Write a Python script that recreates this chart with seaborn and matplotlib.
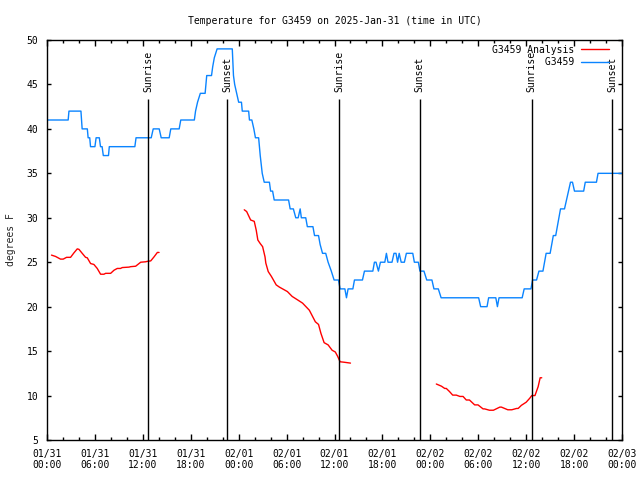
import matplotlib
matplotlib.use("Agg")
import matplotlib.pyplot as plt
import numpy as np
import pandas as pd
import seaborn as sns

# ---------------- data (hours since 2025-01-31 00:00 UTC) ----------------
obs_hours = [0.0, 2.65, 2.75, 4.25, 4.4, 5.05, 5.15, 5.35, 5.45, 6.0, 6.15, 6.55, 6.7, 6.9,
             7.05, 7.7, 7.8, 11.0, 11.15, 13.05, 13.3, 14.05, 14.3, 15.3, 15.5, 16.55, 16.75,
             18.45, 18.6, 18.85, 19.2, 19.8, 20.0, 20.6, 20.75, 20.95, 21.3, 23.2, 23.35, 23.5,
             23.75, 24.0, 24.35, 24.45, 25.25, 25.35, 25.65, 25.9, 26.1, 26.5, 26.7, 26.95,
             27.2, 27.85, 28.0, 28.25, 28.45, 30.25, 30.45, 30.85, 31.15, 31.45, 31.7, 31.85,
             32.4, 32.6, 33.3, 33.5, 34.0, 34.2, 34.5, 34.9, 35.2, 35.6, 35.95, 36.5, 36.7,
             37.3, 37.5, 37.7, 38.3, 38.5, 39.5, 39.75, 40.8, 41.0, 41.2, 41.5, 41.75, 42.3,
             42.5, 42.7, 43.2, 43.45, 43.7, 43.9, 44.1, 44.35, 44.75, 45.0, 45.8, 46.0, 46.5,
             46.7, 47.2, 47.55, 48.2, 48.45, 49.0, 49.35, 54.05, 54.3, 55.1, 55.3, 56.2, 56.4,
             56.6, 59.5, 59.75, 60.6, 60.8, 61.3, 61.6, 62.1, 62.3, 62.5, 63.0, 63.2, 63.4,
             63.7, 63.9, 64.1, 64.3, 64.8, 65.05, 65.3, 65.55, 65.8, 66.05, 67.2, 67.4, 68.8,
             69.0, 72.0]
obs_temps = [41, 41, 42, 42, 40, 40, 39, 39, 38, 38, 39, 39, 38, 38,
             37, 37, 38, 38, 39, 39, 40, 40, 39, 39, 40, 40, 41,
             41, 42, 43, 44, 44, 46, 46, 47, 48, 49, 49, 46, 45,
             44, 43, 43, 42, 42, 41, 41, 40, 39, 39, 37, 35,
             34, 34, 33, 33, 32, 32, 31, 31, 30, 30, 31, 30,
             30, 29, 29, 28, 28, 27, 26, 26, 25, 24, 23, 23, 22,
             22, 21, 22, 22, 23, 23, 24, 24, 25, 25, 24, 25, 25,
             26, 25, 25, 26, 26, 25, 26, 25, 25, 26, 26, 25, 25,
             24, 24, 23, 23, 22, 22, 21, 21, 20, 20, 21, 21, 20,
             21, 21, 22, 22, 23, 23, 24, 24, 25, 26, 26, 27, 28,
             28, 29, 30, 31, 31, 32, 33, 34, 34, 33, 33, 34, 34,
             35, 35]

ana_hours_1 = [0.56, 1.07, 1.69, 2.03, 2.45, 2.95, 3.37, 3.79, 4.0, 4.41, 4.83, 5.04, 5.46,
               5.87, 6.29, 6.71, 7.13, 7.34, 7.97, 8.39, 8.8, 9.2, 9.43, 10.27, 10.48, 11.1,
               11.73, 12.36, 12.57, 12.99, 13.4, 13.82, 14.03]
ana_temps_1 = [25.8, 25.65, 25.35, 25.35, 25.55, 25.55, 26.05, 26.5, 26.45, 26.0, 25.55, 25.5,
               24.85, 24.75, 24.3, 23.65, 23.65, 23.75, 23.75, 24.1, 24.3, 24.3, 24.4, 24.45,
               24.5, 24.55, 25.0, 25.05, 25.1, 25.15, 25.6, 26.1, 26.1]

ana_hours_2 = [24.7, 25.0, 25.5, 25.95, 26.2, 26.4, 26.7, 27.0, 27.3, 27.4, 27.7, 28.1, 28.7,
               29.1, 29.7, 30.1, 30.7, 31.4, 32.0, 32.85, 33.6, 34.0, 34.3, 34.7, 35.2, 35.7,
               36.1, 36.4, 36.7, 37.2, 38.0]
ana_temps_2 = [30.9, 30.7, 29.75, 29.6, 28.6, 27.5, 27.1, 26.75, 25.6, 24.9, 23.95, 23.4,
               22.45, 22.2, 21.9, 21.7, 21.15, 20.75, 20.4, 19.6, 18.3, 18.0, 17.0, 15.95,
               15.7, 15.1, 14.9, 14.4, 13.8, 13.75, 13.65]

ana_hours_3 = [48.75, 49.4, 49.8, 50.0, 50.4, 50.8, 51.25, 51.7, 52.1, 52.5, 52.9, 53.55,
               53.97, 54.6, 54.8, 55.4, 55.9, 56.7, 56.9, 57.7, 58.2, 58.8, 59.0, 59.4, 60.0,
               60.45, 60.7, 61.1, 61.5, 61.75, 61.95]
ana_temps_3 = [11.3, 11.05, 10.8, 10.8, 10.45, 10.05, 10.05, 9.9, 9.9, 9.5, 9.5, 8.95, 8.95,
               8.5, 8.5, 8.35, 8.35, 8.7, 8.7, 8.4, 8.4, 8.55, 8.55, 8.9, 9.25, 9.7, 10.0,
               10.0, 11.0, 12.0, 12.0]

sun_hours = [12.68, 22.55, 36.58, 46.65, 60.7, 70.74]
sun_labels = ["Sunrise", "Sunset", "Sunrise", "Sunset", "Sunrise", "Sunset"]

xtick_hours = [0, 6, 12, 18, 24, 30, 36, 42, 48, 54, 60, 66, 72]
xtick_labels = ["01/31\n00:00", "01/31\n06:00", "01/31\n12:00", "01/31\n18:00",
                "02/01\n00:00", "02/01\n06:00", "02/01\n12:00", "02/01\n18:00",
                "02/02\n00:00", "02/02\n06:00", "02/02\n12:00", "02/02\n18:00",
                "02/03\n00:00"]
ytick_values = [5, 10, 15, 20, 25, 30, 35, 40, 45, 50]

title = "Temperature for G3459 on 2025-Jan-31 (time in UTC)"
obs_label = "G3459"
ana_label = "G3459 Analysis"

# ---------------- frames ----------------
obs_df = pd.DataFrame({"hour": obs_hours, "temp": obs_temps})
ana_df = pd.concat([
    pd.DataFrame({"hour": ana_hours_1, "temp": ana_temps_1, "seg": 1}),
    pd.DataFrame({"hour": ana_hours_2, "temp": ana_temps_2, "seg": 2}),
    pd.DataFrame({"hour": ana_hours_3, "temp": ana_temps_3, "seg": 3}),
], ignore_index=True)

# ---------------- style ----------------
sns.set_theme(style="ticks")
plt.rcParams["font.family"] = ["DejaVu Sans Mono", "DejaVu Sans"]
plt.rcParams["font.size"] = 7
plt.rcParams["axes.linewidth"] = 1.0
plt.rcParams["axes.edgecolor"] = "black"
plt.rcParams["text.color"] = "black"
plt.rcParams["xtick.color"] = "black"
plt.rcParams["ytick.color"] = "black"

RED = "#ff0000"
BLUE = "#0a84ff"

fig = plt.figure(figsize=(6.4, 4.8), dpi=100)
ax = fig.add_axes([47 / 640, 40 / 480, 575 / 640, 400 / 480])

sns.lineplot(data=ana_df, x="hour", y="temp", units="seg", estimator=None, sort=False,
             color=RED, lw=1.0, ax=ax)
sns.lineplot(data=obs_df, x="hour", y="temp", estimator=None, sort=False,
             color=BLUE, lw=1.0, ax=ax)

# sunrise / sunset markers
ax.vlines(sun_hours, ytick_values[0], 43.4, colors="black", lw=1.0)
for h, lab in zip(sun_hours, sun_labels):
    ax.text(h, 44.1, lab, rotation=90, ha="center", va="bottom", fontsize=7)

ax.set_xlim(xtick_hours[0], xtick_hours[-1])
ax.set_ylim(ytick_values[0], ytick_values[-1])
ax.set_xticks(xtick_hours)
ax.set_xticklabels(xtick_labels, fontsize=7)
ax.set_xticks(np.arange(xtick_hours[0], xtick_hours[-1] + 1, 2), minor=True)
ax.set_yticks(ytick_values)
ax.set_yticklabels([str(v) for v in ytick_values], fontsize=7)
ax.tick_params(axis="x", which="major", direction="in", top=True, bottom=True,
               length=4.5, width=1, pad=6.3)
ax.tick_params(axis="x", which="minor", direction="in", top=True, bottom=True,
               length=2.3, width=1)
ax.tick_params(axis="y", which="major", direction="in", left=True, right=True,
               length=3, width=1, pad=6.2)

ax.set_xlabel("")
ax.set_ylabel("degrees F", fontsize=7, labelpad=7.5)
ax.set_title(title, fontsize=7, pad=11.5)
for s in ax.spines.values():
    s.set_visible(True)
    s.set_color("black")
    s.set_linewidth(1.0)
ax.grid(False)

# legend: right-aligned labels (monospace padding), samples after text
red_handle = plt.Line2D([], [], color=RED, lw=1.0)
blue_handle = plt.Line2D([], [], color=BLUE, lw=1.0)
w = max(len(ana_label), len(obs_label))
ax.legend([red_handle, blue_handle], [ana_label.rjust(w), obs_label.rjust(w)],
          loc="upper right", bbox_to_anchor=(0.977, 0.988), frameon=False,
          markerfirst=False, handlelength=2.9, handletextpad=0.7,
          labelspacing=0.22, borderpad=0, borderaxespad=0, fontsize=7)

fig.savefig("out.png", dpi=100)
